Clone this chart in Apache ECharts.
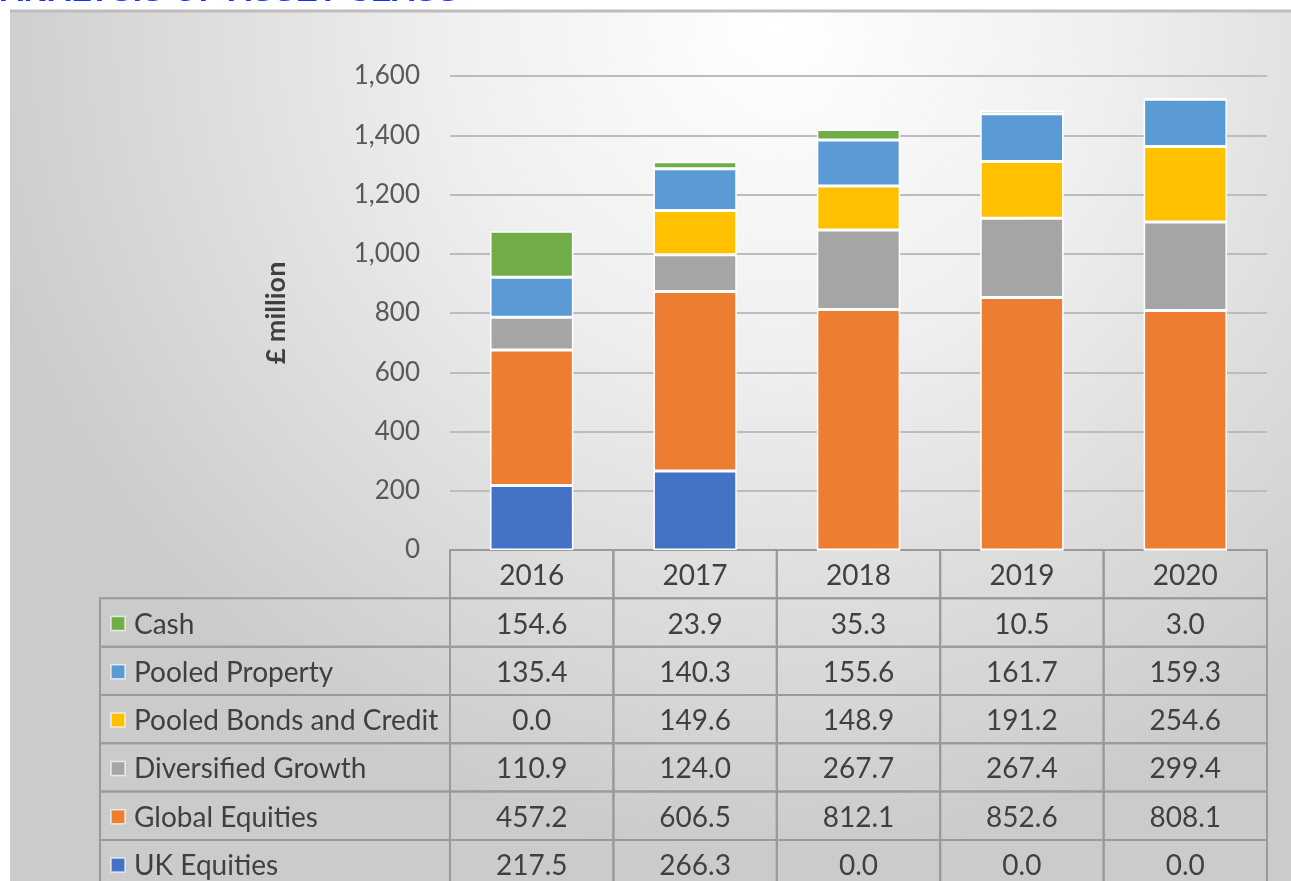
<!DOCTYPE html>
<html>
<head>
<meta charset="utf-8">
<title>Analysis of Asset Class</title>
<script src="https://cdn.jsdelivr.net/npm/echarts@6/dist/echarts.min.js"></script>
<style>
  html, body { margin: 0; padding: 0; background: #fff; }
  #chart { width: 1291px; height: 881px; }
</style>
</head>
<body>
<div id="chart"></div>
<script>
// data
const years = ["2016", "2017", "2018", "2019", "2020"];
const ukEquities = [217.5, 266.3, 0.0, 0.0, 0.0];
const globalEquities = [457.2, 606.5, 812.1, 852.6, 808.1];
const diversifiedGrowth = [110.9, 124.0, 267.7, 267.4, 299.4];
const pooledBonds = [0.0, 149.6, 148.9, 191.2, 254.6];
const pooledProperty = [135.4, 140.3, 155.6, 161.7, 159.3];
const cash = [154.6, 23.9, 35.3, 10.5, 3.0];

// stack order, bottom to top
const seriesDefs = [
  { name: "UK Equities", data: ukEquities, color: "#4472C4" },
  { name: "Global Equities", data: globalEquities, color: "#ED7D31" },
  { name: "Diversified Growth", data: diversifiedGrowth, color: "#A5A5A5" },
  { name: "Pooled Bonds and Credit", data: pooledBonds, color: "#FFC000" },
  { name: "Pooled Property", data: pooledProperty, color: "#5B9BD5" },
  { name: "Cash", data: cash, color: "#70AD47" },
];

const FONT = "Lato, 'Open Sans', sans-serif";

// table rows: header first (row 0), then series from top (Cash) to bottom (UK)
const rowDefs = [null].concat(seriesDefs.slice().reverse());

// build table cells
const cells = [];
rowDefs.forEach((def, r) => {
  if (def) cells.push({ value: [0, r], kind: "legend", text: def.name, color: def.color });
  years.forEach((y, c) => {
    cells.push({
      value: [c, r],
      kind: def ? "value" : "header",
      text: def ? def.data[c].toFixed(1) : y,
    });
  });
});

const chart = echarts.init(document.getElementById("chart"));

const barSeries = seriesDefs.map((s) => ({
  name: s.name,
  type: "bar",
  stack: "total",
  xAxisIndex: 0,
  yAxisIndex: 0,
  barWidth: "51%",
  data: s.data,
  itemStyle: { color: s.color, borderColor: "#ffffff", borderWidth: 1.5 },
}));

const tableSeries = {
  type: "custom",
  xAxisIndex: 1,
  yAxisIndex: 1,
  clip: false,
  silent: true,
  data: cells.map((c) => c.value),
  renderItem: function (params, api) {
    const cell = cells[params.dataIndex];
    const pt = api.coord([api.value(0), api.value(1)]);
    const size = api.size([1, 1]);
    const h = size[1];
    const top = pt[1] - h / 2;
    const border = { stroke: "#9a9a9a", lineWidth: 2, fill: null };
    if (cell.kind === "legend") {
      const x0 = params.coordSys.x - 350;
      return {
        type: "group",
        children: [
          { type: "rect", shape: { x: x0, y: top, width: 350, height: h }, style: border },
          {
            type: "rect",
            shape: { x: x0 + 11, y: pt[1] - 6, width: 14, height: 14 },
            style: { fill: cell.color, stroke: "rgba(255,255,255,0.7)", lineWidth: 1.5 },
          },
          {
            type: "text",
            style: {
              x: x0 + 34, y: pt[1] + 2, text: cell.text,
              font: "28px " + FONT, fill: "#404040",
              textAlign: "left", textVerticalAlign: "middle",
            },
          },
        ],
      };
    }
    const w = size[0];
    return {
      type: "group",
      children: [
        { type: "rect", shape: { x: pt[0] - w / 2, y: top, width: w, height: h }, style: border },
        {
          type: "text",
          style: {
            x: pt[0], y: pt[1] + 2, text: cell.text,
            font: "28px " + FONT, fill: "#404040",
            textAlign: "center", textVerticalAlign: "middle",
          },
        },
      ],
    };
  },
};

const option = {
  animation: false,
  backgroundColor: "#ffffff",
  graphic: [
    {
      type: "rect",
      z: -10,
      shape: { x: 10, y: 10, width: 1281, height: 871 },
      style: {
        fill: new echarts.graphic.RadialGradient(0.6, 0.02, 0.95, [
          { offset: 0, color: "#ffffff" },
          { offset: 0.4, color: "#efefef" },
          { offset: 1, color: "#cbcbcb" },
        ]),
      },
    },
    {
      type: "line",
      z: -9,
      shape: { x1: 10, y1: 11, x2: 1291, y2: 11 },
      style: { stroke: "#bdbdbd", lineWidth: 3 },
    },
    {
      type: "text",
      left: 0,
      top: -25,
      style: {
        text: "ANALYSIS OF ASSET CLASS",
        font: "bold 33px 'Liberation Sans', Arial, sans-serif",
        fill: "#1233f5",
      },
    },
  ],
  grid: [
    { left: 450, right: 24, top: 76, bottom: 331 },
    { left: 450, right: 24, top: 550, bottom: 0 },
  ],
  xAxis: [
    {
      type: "category",
      gridIndex: 0,
      data: years,
      axisLine: { lineStyle: { color: "#595959", width: 2 } },
      axisTick: { show: false },
      axisLabel: { show: false },
    },
    {
      type: "category",
      gridIndex: 1,
      data: years,
      show: false,
    },
  ],
  yAxis: [
    {
      type: "value",
      gridIndex: 0,
      min: 0,
      max: 1600,
      interval: 200,
      name: "£ million",
      nameLocation: "middle",
      nameGap: 160,
      nameTextStyle: { fontFamily: FONT, fontSize: 27, fontWeight: "bold", color: "#404040" },
      axisLine: { show: false },
      axisTick: { show: false },
      axisLabel: {
        margin: 30,
        fontFamily: FONT,
        fontSize: 26,
        color: "#595959",
        formatter: (v) => v.toLocaleString("en-GB"),
      },
      splitLine: { lineStyle: { color: "#bcbcbc", width: 2 } },
    },
    {
      // table rows; the last row runs past the bottom edge of the picture
      type: "value",
      gridIndex: 1,
      min: -0.5,
      max: 6.35,
      inverse: true,
      show: false,
    },
  ],
  series: barSeries.concat([tableSeries]),
};

chart.setOption(option);
</script>
</body>
</html>
